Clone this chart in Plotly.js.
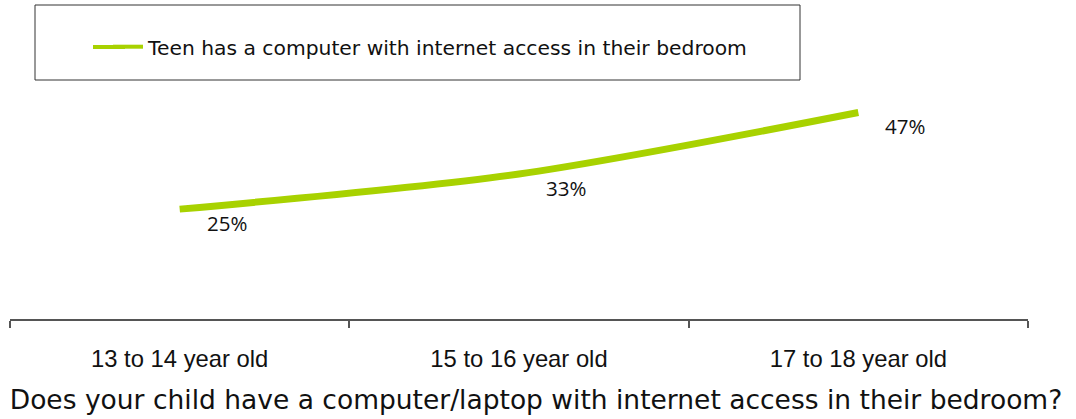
<!DOCTYPE html>
<html>
<head>
<meta charset="utf-8">
<script src="https://cdn.plot.ly/plotly-3.0.1.min.js"></script>
<style>
  html, body { margin: 0; padding: 0; background: #fff; }
  #chart { width: 1076px; height: 419px; }
</style>
</head>
<body>
<div id="chart"></div>
<script>
const categories = ["13 to 14 year old", "15 to 16 year old", "17 to 18 year old"];
const values = [25, 33, 47];
const valueLabels = ["25%", "33%", "47%"];
const seriesName = "Teen has a computer with internet access in their bedroom";
const chartTitle = "Does your child have a computer/laptop with internet access in their bedroom?";

const LINE_COLOR = "#a8d200";

const trace = {
  type: "scatter",
  mode: "lines",
  x: categories,
  y: values,
  name: seriesName,
  legendgroup: "s1",
  showlegend: false,
  line: { color: LINE_COLOR, width: 7, shape: "spline", smoothing: 0.8 },
  hoverinfo: "skip"
};

// legend entry only (thinner swatch, as in the reference legend)
const legendEntry = {
  type: "scatter",
  mode: "lines",
  x: [null], y: [null],
  name: seriesName,
  legendgroup: "s1",
  showlegend: true,
  line: { color: LINE_COLOR, width: 4 },
  hoverinfo: "skip"
};

const annotations = categories.map((c, i) => ({
  x: c, y: values[i], xref: "x", yref: "y",
  text: valueLabels[i], showarrow: false,
  xanchor: "center", yanchor: "middle",
  xshift: 47, yshift: -14,
  font: { family: "Open Sans, Noto Sans, sans-serif", size: 20.5, color: "#111" }
}));

// plot area in pixels: left 10, right 1028, top 95, bottom 319
const PL = 10, PR = 1028, PT = 95, PB = 319;
const px = v => (v - PL) / (PR - PL);
const py = v => (PB - v) / (PB - PT);

const layout = {
  width: 1076, height: 419,
  margin: { l: PL, r: 1076 - PR, t: PT, b: 419 - PB, autoexpand: false },
  paper_bgcolor: "#fff", plot_bgcolor: "#fff",
  showlegend: true,
  legend: {
    xref: "container", yref: "container",
    x: 108 / 1076, y: 1 - 47 / 419, xanchor: "left", yanchor: "middle",
    bgcolor: "rgba(0,0,0,0)", borderwidth: 0,
    font: { family: "DejaVu Sans, sans-serif", size: 20.3, color: "#111" }
  },
  title: {
    text: chartTitle,
    xref: "container", yref: "container",
    x: 536 / 1076, xanchor: "center",
    y: 1 - 400 / 419, yanchor: "middle",
    font: { family: "DejaVu Sans, sans-serif", size: 26.5, color: "#111" }
  },
  xaxis: {
    type: "category",
    range: [-0.5, 2.5],
    showline: true, linecolor: "#555", linewidth: 2,
    ticks: "outside", tickson: "boundaries", ticklen: 7, tickwidth: 2, tickcolor: "#555",
    showgrid: false, zeroline: false,
    tickangle: 0,
    ticklabelstandoff: 17,
    tickfont: { family: "Liberation Sans, Arial, sans-serif", size: 23.8, color: "#111" },
    fixedrange: true
  },
  yaxis: {
    range: [0, 50.97],
    visible: false, showgrid: false, zeroline: false, fixedrange: true
  },
  shapes: [
    {
      type: "rect", xref: "paper", yref: "paper",
      x0: px(35), x1: px(800), y0: py(80), y1: py(5),
      line: { color: "#333", width: 1 }, fillcolor: "rgba(0,0,0,0)"
    },
    {
      type: "line", xref: "paper", yref: "paper",
      x0: px(93), x1: px(125), y0: py(47), y1: py(47),
      line: { color: LINE_COLOR, width: 4 }
    }
  ],
  annotations: annotations
};

Plotly.newPlot("chart", [trace, legendEntry], layout, { displayModeBar: false, staticPlot: true });
</script>
</body>
</html>
